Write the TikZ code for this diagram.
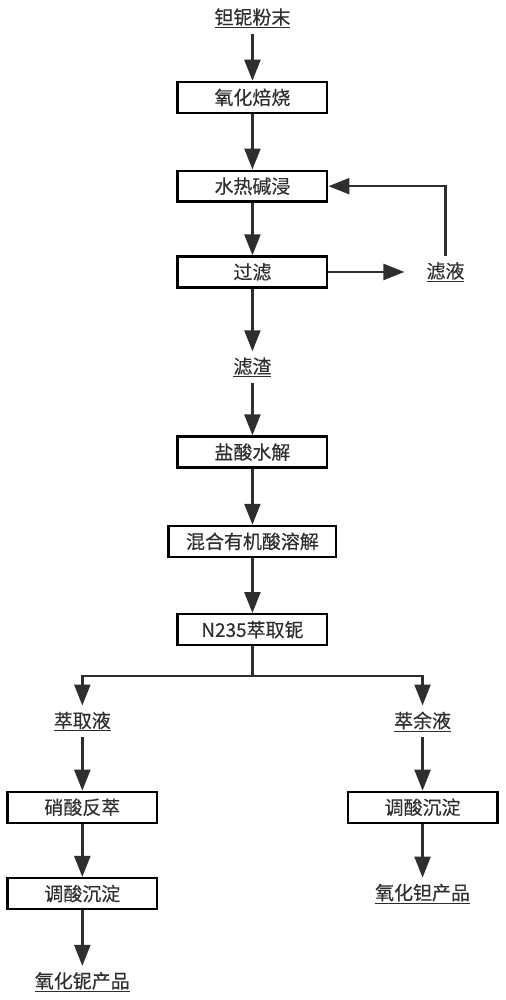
\documentclass[tikz,border=0pt]{standalone}
\usepackage{fontspec}
\setmainfont[FakeBold=0.3]{Noto Sans CJK SC}
\usetikzlibrary{%
  matrix,%
  calc,%
  arrows.meta%
}
\definecolor{ink}{HTML}{2E2E2E}

\begin{document}
\begin{tikzpicture}[color=ink,line width=2.4pt,
  font=\fontsize{19pt}{22pt}\selectfont,
  box/.style={draw,minimum width=150pt,minimum height=31pt,inner sep=2pt},
  txt/.style={inner sep=5pt},
  flow/.style={-{Triangle[width=16pt,length=21pt]}}]
\matrix[matrix of nodes,column sep={170.5pt,between origins},row sep={88pt,between origins},nodes={anchor=center}] (s)
{
&|[name=ty,txt]| \underline{钽铌粉末} & \\[-8.5pt]
%
&|[name=yh,box]| 氧化焙烧 & \\[1pt]
%
&|[name=sr,box]| 水热碱浸 & \\[-2pt]
%
&|[name=gl,box]| 过滤 &|[name=lv,txt,xshift=23pt]| \underline{滤液} \\[7.5pt]
%
&|[name=lz,txt]| \underline{滤渣} & \\[-3pt]
%
&|[name=ys,box]| 盐酸水解 & \\[1.5pt]
%
&|[name=hh,box,minimum width=168pt]| 混合有机酸溶解 & \\[0.5pt]
%
&|[name=nq,box]| N235萃取铌 & \\[4pt]
%
|[name=cqy,txt]| \underline{萃取液} & &|[name=cyy,txt]| \underline{萃余液} \\[-2pt]
%
|[name=xs,box]| 硝酸反萃 & &|[name=tr,box]| 调酸沉淀 \\[-1.5pt]
%
|[name=tl,box]| 调酸沉淀 & &|[name=tap,txt]| \underline{氧化钽产品} \\[0.5pt]
%
|[name=nbp,txt]| \underline{氧化铌产品} & & \\
};
\useasboundingbox ($(ty.center)+(-253pt,17pt)$) rectangle ++(507pt,-1000pt);

\draw[flow] (ty) edge (yh)
          (yh) edge (sr)
          (sr) edge (gl)
          (gl) edge (lz)
          (lz) edge (ys)
          (ys) edge (hh)
          (hh) edge (nq)
          (cqy) edge (xs)
          (xs) edge (tl)
          (tl) edge (nbp)
          (cyy) edge (tr)
          (tr) edge (tap)
;
\draw[flow,shorten >=16pt] (gl) -- (lv);
\draw[flow] (lv) |- (sr);

\coordinate (fz) at ($(nq.south)+(0,-30pt)$);
\draw (nq) -- (fz);
\draw[flow] (fz) -| (cqy);
\draw[flow] (fz) -| (cyy);
\end{tikzpicture}
\end{document}
